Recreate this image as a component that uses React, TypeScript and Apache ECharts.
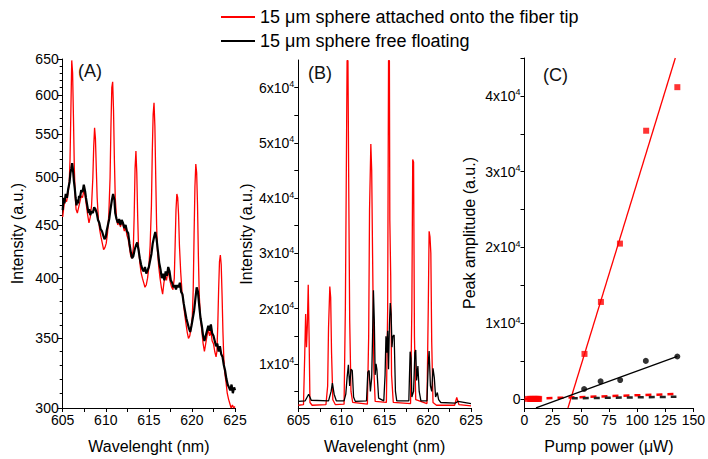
import React, { useEffect, useRef } from "react";
import * as echarts from "echarts";

const legendNames = ["15 \u03bcm sphere attached onto the fiber tip", "15 \u03bcm sphere free floating"];

// Panel A (log-scaled intensity axis)
const aYTicks = [300, 350, 400, 450, 500, 550, 600, 650];
const aYMinor = [300, 310, 320, 330, 340, 350, 360, 370, 380, 390, 400, 410, 420, 430, 440, 450, 460, 470, 480, 490, 500, 510, 520, 530, 540, 550, 560, 570, 580, 590, 600, 610, 620, 630, 640, 650];
const wlTicks = [605, 610, 615, 620, 625];

const aRed = [
  [605.0, 458], [605.15, 470], [605.3, 476], [605.45, 474], [605.6, 482], [605.75, 492], [605.85, 520], [605.95, 580], [606.05, 648], [606.15, 630],
  [606.25, 570], [606.35, 510], [606.45, 480], [606.55, 466], [606.7, 462], [606.85, 468], [607.0, 474], [607.15, 480], [607.3, 478], [607.45, 486],
  [607.6, 480], [607.75, 470], [607.9, 460], [608.05, 452], [608.2, 458], [608.35, 470], [608.5, 500], [608.6, 535], [608.7, 558], [608.8, 545],
  [608.9, 510], [609.0, 478], [609.15, 455], [609.3, 445], [609.45, 438], [609.6, 432], [609.75, 426], [609.9, 428], [610.05, 432], [610.2, 442],
  [610.35, 460], [610.5, 500], [610.6, 560], [610.7, 610], [610.8, 618], [610.9, 580], [611.0, 520], [611.1, 478], [611.25, 456], [611.4, 450],
  [611.55, 455], [611.7, 448], [611.85, 454], [612.0, 450], [612.15, 444], [612.3, 448], [612.45, 440], [612.6, 436], [612.75, 428], [612.9, 420],
  [613.05, 418], [613.2, 428], [613.3, 460], [613.4, 510], [613.5, 530], [613.6, 505], [613.7, 460], [613.8, 428], [613.95, 414], [614.1, 405],
  [614.25, 400], [614.4, 396], [614.55, 392], [614.7, 394], [614.85, 400], [615.0, 410], [615.15, 430], [615.3, 470], [615.4, 530], [615.5, 575],
  [615.6, 590], [615.7, 560], [615.8, 500], [615.9, 450], [616.0, 425], [616.15, 410], [616.3, 400], [616.45, 392], [616.6, 386], [616.75, 396],
  [616.9, 402], [617.05, 398], [617.2, 406], [617.35, 402], [617.5, 396], [617.65, 392], [617.8, 390], [617.95, 400], [618.05, 430], [618.15, 465],
  [618.25, 482], [618.35, 478], [618.45, 460], [618.55, 430], [618.7, 405], [618.85, 388], [619.0, 380], [619.15, 370], [619.3, 362], [619.45, 355],
  [619.6, 350], [619.75, 352], [619.9, 358], [620.05, 368], [620.15, 390], [620.25, 440], [620.35, 490], [620.45, 515], [620.55, 505], [620.65, 470],
  [620.75, 420], [620.85, 385], [621.0, 366], [621.15, 356], [621.3, 346], [621.45, 340], [621.6, 346], [621.75, 352], [621.9, 357], [622.05, 352],
  [622.2, 356], [622.35, 348], [622.5, 346], [622.65, 340], [622.8, 336], [622.9, 340], [623.0, 360], [623.1, 390], [623.2, 415], [623.3, 421],
  [623.4, 412], [623.5, 385], [623.6, 355], [623.7, 335], [623.8, 325], [623.95, 318], [624.1, 310], [624.25, 306], [624.4, 303], [624.55, 300],
  [624.7, 302], [624.85, 300], [625.0, 301],
];

const aBlack = [
  [605.0, 465], [605.1, 478], [605.2, 472], [605.35, 482], [605.5, 478], [605.65, 488], [605.8, 495], [605.9, 505], [606.0, 510], [606.1, 516],
  [606.2, 508], [606.3, 496], [606.4, 488], [606.5, 478], [606.6, 470], [606.7, 476], [606.8, 472], [606.9, 480], [607.0, 478], [607.15, 486],
  [607.3, 484], [607.45, 492], [607.6, 485], [607.7, 478], [607.85, 470], [608.0, 462], [608.1, 466], [608.2, 460], [608.35, 464], [608.5, 462],
  [608.65, 468], [608.8, 466], [608.95, 462], [609.1, 455], [609.25, 452], [609.4, 446], [609.55, 444], [609.7, 440], [609.85, 436], [610.0, 438],
  [610.1, 444], [610.25, 450], [610.4, 456], [610.55, 466], [610.7, 475], [610.85, 482], [611.0, 476], [611.1, 462], [611.25, 456], [611.4, 452],
  [611.55, 456], [611.7, 450], [611.85, 455], [612.0, 452], [612.15, 447], [612.3, 450], [612.45, 444], [612.6, 442], [612.75, 432], [612.9, 424],
  [613.05, 418], [613.2, 420], [613.35, 426], [613.5, 430], [613.65, 433], [613.8, 426], [613.95, 418], [614.1, 412], [614.25, 408], [614.4, 406],
  [614.55, 410], [614.7, 404], [614.85, 407], [615.0, 410], [615.15, 416], [615.3, 422], [615.45, 432], [615.6, 438], [615.75, 443], [615.9, 436],
  [616.05, 425], [616.2, 414], [616.35, 408], [616.5, 400], [616.65, 404], [616.8, 398], [616.95, 406], [617.1, 402], [617.25, 410], [617.4, 406],
  [617.55, 398], [617.7, 396], [617.85, 392], [618.0, 394], [618.15, 390], [618.3, 394], [618.45, 392], [618.6, 396], [618.75, 388], [618.9, 386],
  [619.05, 378], [619.2, 372], [619.35, 366], [619.5, 362], [619.65, 358], [619.8, 355], [619.95, 360], [620.1, 366], [620.25, 372], [620.4, 382],
  [620.55, 392], [620.7, 388], [620.85, 376], [621.0, 366], [621.15, 360], [621.3, 352], [621.45, 348], [621.6, 352], [621.75, 356], [621.9, 360],
  [622.05, 356], [622.2, 361], [622.35, 354], [622.5, 352], [622.65, 348], [622.8, 344], [622.95, 346], [623.1, 340], [623.25, 344], [623.4, 338],
  [623.55, 336], [623.7, 330], [623.85, 326], [624.0, 320], [624.15, 316], [624.3, 314], [624.45, 312], [624.6, 316], [624.75, 310], [624.9, 314],
  [625.0, 312],
];

// Panel B
const bYLabels = [10000, 20000, 30000, 40000, 50000, 60000];
const bYTicks = [5000, 10000, 15000, 20000, 25000, 30000, 35000, 40000, 45000, 50000, 55000, 60000];

const bRed = [
  [605.0, 2500], [605.6, 2600], [605.75, 12000], [605.85, 19000], [605.95, 13000], [606.05, 17000], [606.15, 24300], [606.25, 15000], [606.35, 3000], [606.6, 2500],
  [608.2, 2600], [608.4, 6000], [608.5, 16500], [608.65, 24000], [608.75, 22000], [608.85, 12000], [609.0, 3500], [609.3, 2600],
  [610.3, 2700], [610.45, 20000], [610.55, 42000], [610.65, 64900], [610.75, 64900], [610.85, 40000], [610.95, 18000], [611.1, 5000], [611.3, 3000],
  [613.0, 2700], [613.15, 15000], [613.25, 38000], [613.4, 49800], [613.5, 45000], [613.6, 30000], [613.75, 9000], [613.9, 3200],
  [615.2, 3000], [615.35, 20000], [615.45, 64900], [615.55, 64900], [615.6, 36000], [615.7, 26000], [615.8, 8000], [616.0, 3000],
  [618.0, 2800], [618.15, 20000], [618.25, 47000], [618.35, 46500], [618.45, 15000], [618.6, 3500],
  [619.9, 2800], [620.05, 20000], [620.15, 34000], [620.25, 33000], [620.35, 30000], [620.45, 14000], [620.6, 3000], [621.0, 2500],
  [623.1, 2500], [623.35, 3900], [623.6, 2600], [625.0, 2400],
];

const bBlack = [
  [605.0, 3200], [605.8, 3300], [606.2, 4500], [606.5, 3400], [608.5, 3300], [608.8, 5000], [608.95, 6500], [609.15, 4500], [609.4, 3300],
  [610.3, 3300], [610.5, 4500], [610.65, 7500], [610.8, 9800], [610.95, 6000], [611.1, 9000], [611.25, 8800], [611.4, 4000], [611.6, 3200],
  [612.9, 3300], [613.05, 8500], [613.2, 8800], [613.35, 5000], [613.5, 7500], [613.6, 15000], [613.7, 23300], [613.8, 18000], [613.9, 8000],
  [614.0, 10000], [614.1, 9000], [614.3, 3800], [614.9, 3300], [615.05, 8000], [615.15, 15000], [615.25, 12000], [615.35, 16000], [615.45, 9000],
  [615.55, 17000], [615.65, 21000], [615.75, 19000], [615.85, 13000], [615.95, 15000], [616.1, 15200], [616.25, 5000], [616.4, 3300],
  [617.8, 3300], [617.95, 12200], [618.05, 11000], [618.15, 4000], [618.35, 5000], [618.5, 12000], [618.6, 12500], [618.7, 7000], [618.85, 9600],
  [619.0, 5000], [619.2, 3300], [619.9, 3300], [620.05, 10000], [620.15, 12300], [620.3, 6000], [620.45, 5000], [620.6, 9200], [620.75, 7500],
  [620.9, 4000], [621.1, 4800], [621.25, 3500], [621.5, 3000], [623.2, 2900], [623.5, 3200], [625.0, 2800],
];

// Panel C
const cYLabels = [0, 10000, 20000, 30000, 40000];
const cYTicks = [0, 5000, 10000, 15000, 20000, 25000, 30000, 35000, 40000, 45000];
const cRedPoints = [
  [3, 0], [5, 0], [6, 0], [7, 0], [8, 0], [9, 0], [10, 0], [11, 0], [12, 0], [13, 0],
  [53.3, 5940], [67.9, 12800], [84.8, 20500], [108.1, 35400], [135.8, 41150],
];
const cBlackPoints = [
  [53, 1310], [67.6, 2320], [85, 2490], [107.8, 5020], [135.8, 5600],
];
const cRedFit = [[38.6, -1200], [134, 45000]];
const cBlackFit = [[10.2, -1180], [135.8, 5600]];
const cRedBelow = [[0, 0], [135, 650]];
const cBlackBelow = [[42, 80], [135, 280]];

const FONT = "'Liberation Sans', Arial, sans-serif";
const RED = "#ff0000";
const BLACK = "#000000";

const supFmt = (v: number) => (v === 0 ? "{b|0}" : `{b|${Math.round(v / 1e4)}x10}{s|4}`);
const supRich = {
  b: { fontSize: 14, fontFamily: FONT, color: BLACK, lineHeight: 16 },
  s: { fontSize: 9, fontFamily: FONT, color: BLACK, lineHeight: 9, verticalAlign: "top" },
};

const axisLine = { show: true, onZero: false, lineStyle: { color: BLACK, width: 1 } };
const labelStyle = { color: BLACK, fontSize: 14, fontFamily: FONT };
const nameStyle = { color: BLACK, fontSize: 16, fontFamily: FONT };

export default function App() {
  const ref = useRef<HTMLDivElement>(null);
  useEffect(() => {
    if (!ref.current) return;
    const chart = echarts.init(ref.current, undefined, { renderer: "svg" });
    const ln = Math.log;
    const option: any = {
      animation: false,
      backgroundColor: "#ffffff",
      textStyle: { fontFamily: FONT },
      legend: {
        orient: "vertical",
        left: 216,
        top: 3,
        itemGap: 6,
        itemWidth: 34,
        itemHeight: 2,
        textStyle: { fontSize: 18, color: BLACK, fontFamily: FONT },
        data: [
          { name: legendNames[0], icon: "rect", itemStyle: { color: RED } },
          { name: legendNames[1], icon: "rect", itemStyle: { color: BLACK } },
        ],
        selectedMode: false,
      },
      graphic: [
        { type: "text", left: 78, top: 62, style: { text: "(A)", fontSize: 18, fontFamily: FONT, fill: "#111" } },
        { type: "text", left: 308, top: 64, style: { text: "(B)", fontSize: 18, fontFamily: FONT, fill: "#111" } },
        { type: "text", left: 543, top: 66, style: { text: "(C)", fontSize: 18, fontFamily: FONT, fill: "#111" } },
      ],
      grid: [
        { left: 62.7, top: 59, width: 172.3, height: 350 },
        { left: 298.3, top: 60, width: 172.7, height: 349 },
        { left: 524.5, top: 58, width: 172, height: 352 },
      ],
      xAxis: [
        {
          gridIndex: 0, type: "value", min: 605, max: 625, interval: 2.5,
          axisLine, splitLine: { show: false },
          axisTick: { length: 4, lineStyle: { color: BLACK } },
          axisLabel: { ...labelStyle, margin: 5, customValues: wlTicks },
          name: "Wavelenght (nm)", nameLocation: "middle", nameGap: 30, nameTextStyle: nameStyle,
        },
        {
          gridIndex: 1, type: "value", min: 605, max: 625, interval: 2.5,
          axisLine, splitLine: { show: false },
          axisTick: { length: 4, lineStyle: { color: BLACK } },
          axisLabel: { ...labelStyle, margin: 5, customValues: wlTicks },
          name: "Wavelenght (nm)", nameLocation: "middle", nameGap: 30, nameTextStyle: nameStyle,
        },
        {
          gridIndex: 2, type: "value", min: 0, max: 150, interval: 25,
          axisLine, splitLine: { show: false },
          axisTick: { length: 4, lineStyle: { color: BLACK } },
          axisLabel: { ...labelStyle, margin: 5 },
          name: "Pump power (\u03bcW)", nameLocation: "middle", nameGap: 30, nameTextStyle: nameStyle,
        },
      ],
      yAxis: [
        {
          gridIndex: 0, type: "value", position: "left", min: ln(300), max: ln(650),
          axisLine, splitLine: { show: false },
          axisTick: { length: 5, customValues: aYTicks.map(ln), lineStyle: { color: BLACK } },
          axisLabel: { ...labelStyle, margin: 4, customValues: aYTicks.map(ln), formatter: (v: number) => String(Math.round(Math.exp(v))) },
          name: "Intensity (a.u.)", nameLocation: "middle", nameGap: 37, nameTextStyle: nameStyle,
        },
        {
          gridIndex: 0, type: "value", position: "left", offset: 0, min: ln(300), max: ln(650),
          axisLine: { show: false }, splitLine: { show: false },
          axisTick: { length: 3, customValues: aYMinor.map(ln), lineStyle: { color: BLACK } },
          axisLabel: { show: false },
        },
        {
          gridIndex: 1, type: "value", position: "left", min: 2000, max: 65000,
          axisLine, splitLine: { show: false },
          axisTick: { length: 4, customValues: bYTicks, lineStyle: { color: BLACK } },
          axisLabel: { margin: 4, customValues: bYLabels, formatter: supFmt, rich: supRich },
          name: "Intensity (a.u.)", nameLocation: "middle", nameGap: 44, nameTextStyle: nameStyle,
        },
        {
          gridIndex: 2, type: "value", position: "left", min: -1200, max: 45000,
          axisLine, splitLine: { show: false },
          axisTick: { length: 4, customValues: cYTicks, lineStyle: { color: BLACK } },
          axisLabel: { margin: 4, customValues: cYLabels, formatter: supFmt, rich: supRich },
          name: "Peak amplitude (a.u.)", nameLocation: "middle", nameGap: 47, nameTextStyle: nameStyle,
        },
      ],
      series: [
        {
          name: legendNames[0], type: "line", xAxisIndex: 0, yAxisIndex: 0, showSymbol: false, symbol: "none",
          lineStyle: { color: RED, width: 1.3 }, itemStyle: { color: RED },
          data: aRed.map(([x, v]) => [x, ln(v)]),
        },
        {
          name: legendNames[1], type: "line", xAxisIndex: 0, yAxisIndex: 0, showSymbol: false, symbol: "none",
          lineStyle: { color: BLACK, width: 2.2 }, itemStyle: { color: BLACK },
          data: aBlack.map(([x, v]) => [x, ln(v)]),
        },
        {
          name: legendNames[0], type: "line", xAxisIndex: 1, yAxisIndex: 2, showSymbol: false, symbol: "none",
          lineStyle: { color: RED, width: 1.3 }, itemStyle: { color: RED }, data: bRed,
        },
        {
          name: legendNames[1], type: "line", xAxisIndex: 1, yAxisIndex: 2, showSymbol: false, symbol: "none",
          lineStyle: { color: BLACK, width: 1.3 }, itemStyle: { color: BLACK }, data: bBlack,
        },
        {
          name: "redBelow", type: "line", xAxisIndex: 2, yAxisIndex: 3, showSymbol: false, symbol: "none",
          lineStyle: { color: RED, width: 2.5, type: [6, 5] }, data: cRedBelow,
        },
        {
          name: "blackBelow", type: "line", xAxisIndex: 2, yAxisIndex: 3, showSymbol: false, symbol: "none",
          lineStyle: { color: "#222", width: 2.5, type: [6, 5] }, data: cBlackBelow,
        },
        {
          name: "redFit", type: "line", xAxisIndex: 2, yAxisIndex: 3, showSymbol: false, symbol: "none",
          lineStyle: { color: RED, width: 1.3 }, data: cRedFit,
        },
        {
          name: "blackFit", type: "line", xAxisIndex: 2, yAxisIndex: 3, showSymbol: false, symbol: "none",
          lineStyle: { color: BLACK, width: 1.3 }, data: cBlackFit,
        },
        {
          name: "blackPts", type: "scatter", xAxisIndex: 2, yAxisIndex: 3, symbol: "circle", symbolSize: 6,
          itemStyle: { color: BLACK }, data: cBlackPoints,
        },
        {
          name: "redPts", type: "scatter", xAxisIndex: 2, yAxisIndex: 3, symbol: "rect", symbolSize: 6,
          itemStyle: { color: RED }, data: cRedPoints,
        },
      ],
    };
    chart.setOption(option);
    return () => chart.dispose();
  }, []);
  return (
    <div
      ref={ref}
      style={{ position: "fixed", left: 0, top: 0, width: 708, height: 459, background: "#fff" }}
    />
  );
}
